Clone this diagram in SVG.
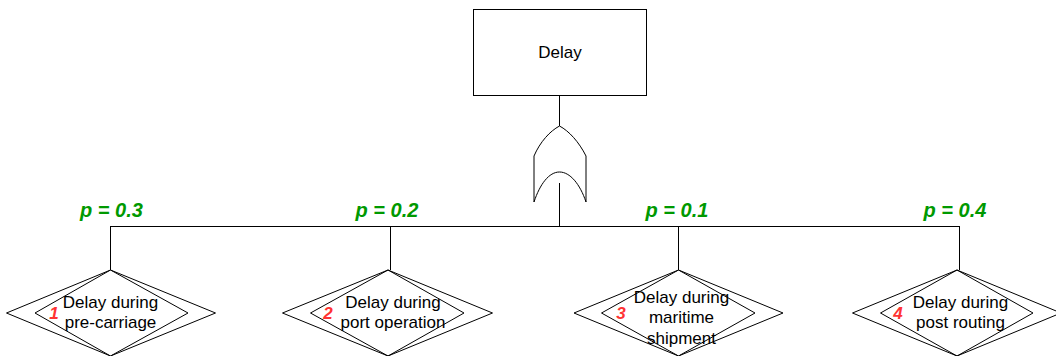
<svg xmlns="http://www.w3.org/2000/svg" width="1056" height="356" viewBox="0 0 1056 356">
<style>
.s{fill:none;stroke:#000;stroke-width:1}
.box{fill:#fff;stroke:#000;stroke-width:1}
.t{font-family:"Liberation Sans",Arial,sans-serif;font-size:17px;fill:#000;text-anchor:middle}
.p{font-family:"Liberation Sans",Arial,sans-serif;font-size:20px;font-weight:bold;font-style:italic;fill:#009900;text-anchor:middle}
.n{font-family:"Liberation Sans",Arial,sans-serif;font-size:17px;font-weight:bold;font-style:italic;fill:#FF3333;text-anchor:middle}
</style>
<rect width="1056" height="356" fill="#fff"/>
<g id="connectors">
<line class="s" x1="559.5" y1="96" x2="559.5" y2="126"/>
<line class="s" x1="559.5" y1="183" x2="559.5" y2="226.5"/>
<line class="s" x1="110" y1="226.5" x2="959.5" y2="226.5"/>
<line class="s" x1="110.5" y1="226" x2="110.5" y2="270"/>
<line class="s" x1="390.5" y1="226" x2="390.5" y2="270"/>
<line class="s" x1="678.5" y1="226" x2="678.5" y2="270"/>
<line class="s" x1="959.5" y1="226" x2="959.5" y2="270"/>
</g>
<g id="top">
<rect class="box" x="473.5" y="9.5" width="173" height="86"/>
<text class="t" x="560" y="58">Delay</text>
</g>
<g id="orgate">
<path class="s" d="M534,202 L534,156 C540,142 550,131 559.5,126 C569,131 579,142 586,156 L586,202 C580,184 570,172 559.5,172 C549,172 540,184 534,202 Z" fill="#fff"/>
</g>
<g id="labels">
<text class="p" x="111.5" y="217">p = 0.3</text>
<text class="p" x="387" y="217">p = 0.2</text>
<text class="p" x="677" y="217">p = 0.1</text>
<text class="p" x="955" y="217">p = 0.4</text>
</g>
<g id="node1">
<polygon class="box" points="110.5,270 215.5,313 110.5,356 6.5,313"/>
<polygon class="s" points="110.5,270 188,313 110.5,356 35,313"/>
<text class="t" x="110.5" y="308">Delay during</text>
<text class="t" x="110.5" y="328">pre-carriage</text>
<text class="n" x="54" y="319">1</text>
</g>
<g id="node2">
<polygon class="box" points="388,270 492.5,313 388,356 282.5,313"/>
<polygon class="s" points="388,270 464,313 388,356 310.5,313"/>
<text class="t" x="393" y="308">Delay during</text>
<text class="t" x="393" y="328">port operation</text>
<text class="n" x="328" y="319">2</text>
</g>
<g id="node3">
<polygon class="box" points="678.5,270 783,313 678.5,356 574,313"/>
<polygon class="s" points="678.5,270 755,313 678.5,356 601.5,313"/>
<text class="t" x="681.5" y="303">Delay during</text>
<text class="t" x="681.5" y="323">maritime</text>
<text class="t" x="681.5" y="344">shipment</text>
<text class="n" x="621" y="319">3</text>
</g>
<g id="node4">
<polygon class="box" points="957,270 1061,313 957,356 852.5,313"/>
<polygon class="s" points="957,270 1033,313 957,356 880.5,313"/>
<text class="t" x="960.5" y="308">Delay during</text>
<text class="t" x="960.5" y="328">post routing</text>
<text class="n" x="898" y="319">4</text>
</g>
</svg>
